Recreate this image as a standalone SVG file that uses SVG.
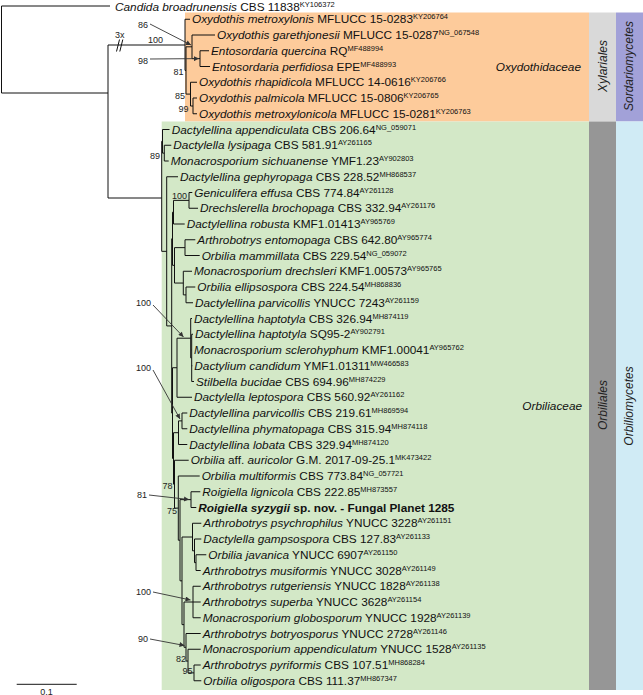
<svg xmlns="http://www.w3.org/2000/svg" width="643" height="695" viewBox="0 0 643 695">
<defs>
<style>
.t{font-family:"Liberation Sans",Arial,sans-serif;font-size:11.8px;fill:#111}
.i{font-style:italic}
.b{font-weight:bold}
.s{font-size:7.5px}
.l{font-family:"Liberation Sans",Arial,sans-serif;font-size:9px;fill:#222}
.e{text-anchor:end}
.v{font-family:"Liberation Sans",Arial,sans-serif;font-size:12px;font-style:italic;fill:#222;text-anchor:middle}
.br{fill:none;stroke:#111;stroke-width:1}
.ar{fill:none;stroke:#333;stroke-width:0.9}
</style>
<marker id="ah" viewBox="0 0 6 6" refX="6" refY="3" markerWidth="6" markerHeight="5" orient="auto" markerUnits="userSpaceOnUse"><path d="M0,0 L6,3 L0,6 z" fill="#333"/></marker>
</defs>
<g id="bands">
<rect x="185" y="12.5" width="404" height="109" fill="#fdcb9b"/>
<rect x="161.7" y="121.5" width="427.3" height="568.5" fill="#d3e8c7"/>
<rect x="589" y="12.5" width="27" height="109" fill="#d9d9d9"/>
<rect x="616" y="12.5" width="27" height="109" fill="#a2a1d8"/>
<rect x="589" y="121.5" width="27" height="568.5" fill="#969696"/>
<rect x="616" y="121.5" width="27" height="568.5" fill="#d0ebf5"/>
</g>
<g id="group-labels">
<text class="t i e" x="581" y="70.5">Oxydothidaceae</text>
<text class="t i e" x="582" y="410">Orbiliaceae</text>
<text class="v" transform="translate(606.5,66) rotate(-90)">Xylariales</text>
<text class="v" transform="translate(633,66) rotate(-90)">Sordariomycetes</text>
<text class="v" transform="translate(606.5,405) rotate(-90)">Orbiliales</text>
<text class="v" transform="translate(633,406) rotate(-90)">Orbiliomycetes</text>
</g>
<g id="connectors">
<path class="br" d="M1.5 6H110M1.5 6V93M1.5 93H108M108 45V198M108 45H185M108 198H161.7
M185 19.25V70.45M185 19.25H190M185 70.45H186M186 46.8V94.1M186 46.8H192M192 35V58.6M192 35H215M192 58.6H200M200 50.75V66.5M200 50.75H209M200 66.5H210M186 94.1H190.5M190.5 82.25V106M190.5 82.25H197M190.5 106H193M193 98V113.75M193 98H197M193 113.75H197
M161.7 141.31V251.34M162.5 129.5V153.125M164.3 145.25V161M166.7 176.75V325.93M171.7 238.77V413.08M172.5 212.19V265.34M173.5 200.375V224M189 192.5V208.25M174.5 247.625V283.06M185 239.75V255.5M183.3 271.25V294.875M186 287V302.75M172.5 367.72V458.44M177 338.19V397.25M190.7 318.5V357.875M191.7 334.25V381.5M173.5 432.69V484.18M178.5 420.875V444.5M182 413V428.75M174.5 460.25V508.12M178.3 476V540.23M180 499.625V580.84M191 491.75V507.5M182 537.03V624.64M192.5 523.25V550.81M194.5 539V562.625M196 554.75V570.5M184 602V647.28M193 586.25V617.75M186 633.5V661.06M188 649.25V672.875M194 665V680.75
M161.7 141.31H162.5M162.5 153.125H164.3M161.7 251.34H166.7M166.7 325.93H171.7M171.7 238.77H172.5M172.5 212.19H173.5M173.5 200.375H189M172.5 265.34H174.5M174.5 247.625H185M174.5 283.06H183.3M183.3 294.875H186M171.7 413.08H172.5M172.5 367.72H177M177 338.19H190.7M190.7 357.875H191.7M172.5 458.44H173.5M173.5 432.69H178.5M178.5 420.875H182M173.5 484.18H174.5M174.5 508.12H178.3M178.3 540.23H180M180 499.625H191M180 580.84H182M182 537.03H192.5M192.5 550.81H194.5M194.5 562.625H196M182 624.64H184M184 602H193M184 647.28H186M186 661.06H188M188 672.875H194
M162.5 129.5H169.5M164.3 145.25H171.3M164.3 161H168.7M166.7 176.75H178M189 192.5H192.3M189 208.25H198M173.5 224H184.7M185 239.75H195.3M185 255.5H199.7M183.3 271.25H192M186 287H195.3M186 302.75H193M190.7 318.5H192M191.7 334.25H193M191.7 350H192M191.7 365.75H192.3M191.7 381.5H194M177 397.25H192M182 413H187.3M182 428.75H187.3M178.5 444.5H187.3M174.5 460.25H188.7M178.3 476H199.7M191 491.75H200.3M191 507.5H196.3M192.5 523.25H201.3M194.5 539H201.3M196 554.75H206.3M196 570.5H200.7M193 586.25H200.7M193 602H200.7M193 617.75H200.7M186 633.5H200.7M188 649.25H200.7M194 665H200.7M194 680.75H201.3"/>
<path class="br" d="M116.5 51.5L119.5 39.5M119.8 51.5L122.8 39.5"/>
<path class="ar" marker-end="url(#ah)" d="M150 24L191 45"/>
<path class="ar" marker-end="url(#ah)" d="M150 59L199 58.6"/>
<path class="ar" marker-end="url(#ah)" d="M153 305L183.5 337"/>
<path class="ar" marker-end="url(#ah)" d="M153 370L180 419"/>
<path class="ar" marker-end="url(#ah)" d="M149 495L189 499.5"/>
<path class="ar" marker-end="url(#ah)" d="M153 592L190.5 600"/>
<path class="ar" marker-end="url(#ah)" d="M150 639L184.5 645.5"/>
<path d="M16.7 684.3H76.7" stroke="#444" stroke-width="1.2"/>
</g>
<g id="support-values">
<text class="l" x="115" y="38">3x</text>
<text class="l" x="148" y="43">100</text>
<text class="l" x="138" y="28">86</text>
<text class="l" x="138" y="63.5">98</text>
<text class="l e" x="183.5" y="74.5">81</text>
<text class="l e" x="185" y="98.5">85</text>
<text class="l e" x="188.5" y="111.5">99</text>
<text class="l e" x="160" y="158.5">89</text>
<text class="l e" x="187" y="199.3">100</text>
<text class="l e" x="151" y="306">100</text>
<text class="l e" x="151" y="371">100</text>
<text class="l e" x="172.5" y="488.5">78</text>
<text class="l e" x="147" y="498">81</text>
<text class="l e" x="177" y="513.5">75</text>
<text class="l e" x="151" y="595">100</text>
<text class="l e" x="148" y="642">90</text>
<text class="l e" x="186" y="661.5">82</text>
<text class="l e" x="192.5" y="674">95</text>
<text class="l" x="46.5" y="694.5" text-anchor="middle">0.1</text>
</g>
<g id="taxa">
<g id="t-candida"><text class="t" x="115" y="10.5"><tspan class="i">Candida broadrunensis</tspan> CBS 11838<tspan class="s" dy="-4">KY106372</tspan></text></g>
<g id="t-oxy1"><text class="t" x="192" y="23.45"><tspan class="i">Oxydothis metroxylonis</tspan> MFLUCC 15-0283<tspan class="s" dy="-4">KY206764</tspan></text></g>
<g id="t-oxy2"><text class="t" x="217" y="39.2"><tspan class="i">Oxydothis garethjonesii</tspan> MFLUCC 15-0287<tspan class="s" dy="-4">NG_067548</tspan></text></g>
<g id="t-ent1"><text class="t" x="211" y="54.95"><tspan class="i">Entosordaria quercina</tspan> RQ<tspan class="s" dy="-4">MF488994</tspan></text></g>
<g id="t-ent2"><text class="t" x="212" y="70.7"><tspan class="i">Entosordaria perfidiosa</tspan> EPE<tspan class="s" dy="-4">MF488993</tspan></text></g>
<g id="t-oxy3"><text class="t" x="199" y="86.45"><tspan class="i">Oxydothis rhapidicola</tspan> MFLUCC 14-0616<tspan class="s" dy="-4">KY206766</tspan></text></g>
<g id="t-oxy4"><text class="t" x="199" y="102.2"><tspan class="i">Oxydothis palmicola</tspan> MFLUCC 15-0806<tspan class="s" dy="-4">KY206765</tspan></text></g>
<g id="t-oxy5"><text class="t" x="199" y="117.95"><tspan class="i">Oxydothis metroxylonicola</tspan> MFLUCC 15-0281<tspan class="s" dy="-4">KY206763</tspan></text></g>
<g id="t00"><text class="t" x="171.7" y="133.7"><tspan class="i">Dactylellina appendiculata</tspan> CBS 206.64<tspan class="s" dy="-4">NG_059071</tspan></text></g>
<g id="t01"><text class="t" x="173.3" y="149.45"><tspan class="i">Dactylella lysipaga</tspan> CBS 581.91<tspan class="s" dy="-4">AY261165</tspan></text></g>
<g id="t02"><text class="t" x="170.7" y="165.2"><tspan class="i">Monacrosporium sichuanense</tspan> YMF1.23<tspan class="s" dy="-4">AY902803</tspan></text></g>
<g id="t03"><text class="t" x="180" y="180.95"><tspan class="i">Dactylellina gephyropaga</tspan> CBS 228.52<tspan class="s" dy="-4">MH868537</tspan></text></g>
<g id="t04"><text class="t" x="194.3" y="196.7"><tspan class="i">Geniculifera effusa</tspan> CBS 774.84<tspan class="s" dy="-4">AY261128</tspan></text></g>
<g id="t05"><text class="t" x="200" y="212.45"><tspan class="i">Drechslerella brochopaga</tspan> CBS 332.94<tspan class="s" dy="-4">AY261176</tspan></text></g>
<g id="t06"><text class="t" x="186.7" y="228.2"><tspan class="i">Dactylellina robusta</tspan> KMF1.01413<tspan class="s" dy="-4">AY965769</tspan></text></g>
<g id="t07"><text class="t" x="197.3" y="243.95"><tspan class="i">Arthrobotrys entomopaga</tspan> CBS 642.80<tspan class="s" dy="-4">AY965774</tspan></text></g>
<g id="t08"><text class="t" x="201.7" y="259.7"><tspan class="i">Orbilia mammillata</tspan> CBS 229.54<tspan class="s" dy="-4">NG_059072</tspan></text></g>
<g id="t09"><text class="t" x="194" y="275.45"><tspan class="i">Monacrosporium drechsleri</tspan> KMF1.00573<tspan class="s" dy="-4">AY965765</tspan></text></g>
<g id="t10"><text class="t" x="197.3" y="291.2"><tspan class="i">Orbilia ellipsospora</tspan> CBS 224.54<tspan class="s" dy="-4">MH868836</tspan></text></g>
<g id="t11"><text class="t" x="195" y="306.95"><tspan class="i">Dactylellina parvicollis</tspan> YNUCC 7243<tspan class="s" dy="-4">AY261159</tspan></text></g>
<g id="t12"><text class="t" x="194" y="322.7"><tspan class="i">Dactylellina haptotyla</tspan> CBS 326.94<tspan class="s" dy="-4">MH874119</tspan></text></g>
<g id="t13"><text class="t" x="195" y="338.45"><tspan class="i">Dactylellina haptotyla</tspan> SQ95-2<tspan class="s" dy="-4">AY902791</tspan></text></g>
<g id="t14"><text class="t" x="194" y="354.2"><tspan class="i">Monacrosporium sclerohyphum</tspan> KMF1.00041<tspan class="s" dy="-4">AY965762</tspan></text></g>
<g id="t15"><text class="t" x="194.3" y="369.95"><tspan class="i">Dactylium candidum</tspan> YMF1.01311<tspan class="s" dy="-4">MW466583</tspan></text></g>
<g id="t16"><text class="t" x="196" y="385.7"><tspan class="i">Stilbella bucidae</tspan> CBS 694.96<tspan class="s" dy="-4">MH874229</tspan></text></g>
<g id="t17"><text class="t" x="194" y="401.45"><tspan class="i">Dactylella leptospora</tspan> CBS 560.92<tspan class="s" dy="-4">AY261162</tspan></text></g>
<g id="t18"><text class="t" x="189.3" y="417.2"><tspan class="i">Dactylellina parvicollis</tspan> CBS 219.61<tspan class="s" dy="-4">MH869594</tspan></text></g>
<g id="t19"><text class="t" x="189.3" y="432.95"><tspan class="i">Dactylellina phymatopaga</tspan> CBS 315.94<tspan class="s" dy="-4">MH874118</tspan></text></g>
<g id="t20"><text class="t" x="189.3" y="448.7"><tspan class="i">Dactylellina lobata</tspan> CBS 329.94<tspan class="s" dy="-4">MH874120</tspan></text></g>
<g id="t21"><text class="t" x="190.7" y="464.45"><tspan class="i">Orbilia</tspan> aff. <tspan class="i">auricolor</tspan> G.M. 2017-09-25.1<tspan class="s" dy="-4">MK473422</tspan></text></g>
<g id="t22"><text class="t" x="201.7" y="480.2"><tspan class="i">Orbilia multiformis</tspan> CBS 773.84<tspan class="s" dy="-4">NG_057721</tspan></text></g>
<g id="t23"><text class="t" x="202.3" y="495.95"><tspan class="i">Roigiella lignicola</tspan> CBS 222.85<tspan class="s" dy="-4">MH873557</tspan></text></g>
<g id="t24"><text class="t b" x="198.3" y="511.7"><tspan class="i">Roigiella syzygii</tspan> sp. nov. - Fungal Planet 1285</text></g>
<g id="t25"><text class="t" x="203.3" y="527.45"><tspan class="i">Arthrobotrys psychrophilus</tspan> YNUCC 3228<tspan class="s" dy="-4">AY261151</tspan></text></g>
<g id="t26"><text class="t" x="203.3" y="543.2"><tspan class="i">Dactylella gampsospora</tspan> CBS 127.83<tspan class="s" dy="-4">AY261133</tspan></text></g>
<g id="t27"><text class="t" x="208.3" y="558.95"><tspan class="i">Orbilia javanica</tspan> YNUCC 6907<tspan class="s" dy="-4">AY261150</tspan></text></g>
<g id="t28"><text class="t" x="202.7" y="574.7"><tspan class="i">Arthrobotrys musiformis</tspan> YNUCC 3028<tspan class="s" dy="-4">AY261149</tspan></text></g>
<g id="t29"><text class="t" x="202.7" y="590.45"><tspan class="i">Arthrobotrys rutgeriensis</tspan> YNUCC 1828<tspan class="s" dy="-4">AY261138</tspan></text></g>
<g id="t30"><text class="t" x="202.7" y="606.2"><tspan class="i">Arthrobotrys superba</tspan> YNUCC 3628<tspan class="s" dy="-4">AY261154</tspan></text></g>
<g id="t31"><text class="t" x="202.7" y="621.95"><tspan class="i">Monacrosporium globosporum</tspan> YNUCC 1928<tspan class="s" dy="-4">AY261139</tspan></text></g>
<g id="t32"><text class="t" x="202.7" y="637.7"><tspan class="i">Arthrobotrys botryosporus</tspan> YNUCC 2728<tspan class="s" dy="-4">AY261146</tspan></text></g>
<g id="t33"><text class="t" x="202.7" y="653.45"><tspan class="i">Monacrosporium appendiculatum</tspan> YNUCC 1528<tspan class="s" dy="-4">AY261135</tspan></text></g>
<g id="t34"><text class="t" x="202.7" y="669.2"><tspan class="i">Arthrobotrys pyriformis</tspan> CBS 107.51<tspan class="s" dy="-4">MH868284</tspan></text></g>
<g id="t35"><text class="t" x="203.3" y="684.95"><tspan class="i">Orbilia oligospora</tspan> CBS 111.37<tspan class="s" dy="-4">MH867347</tspan></text></g>
</g>
</svg>
